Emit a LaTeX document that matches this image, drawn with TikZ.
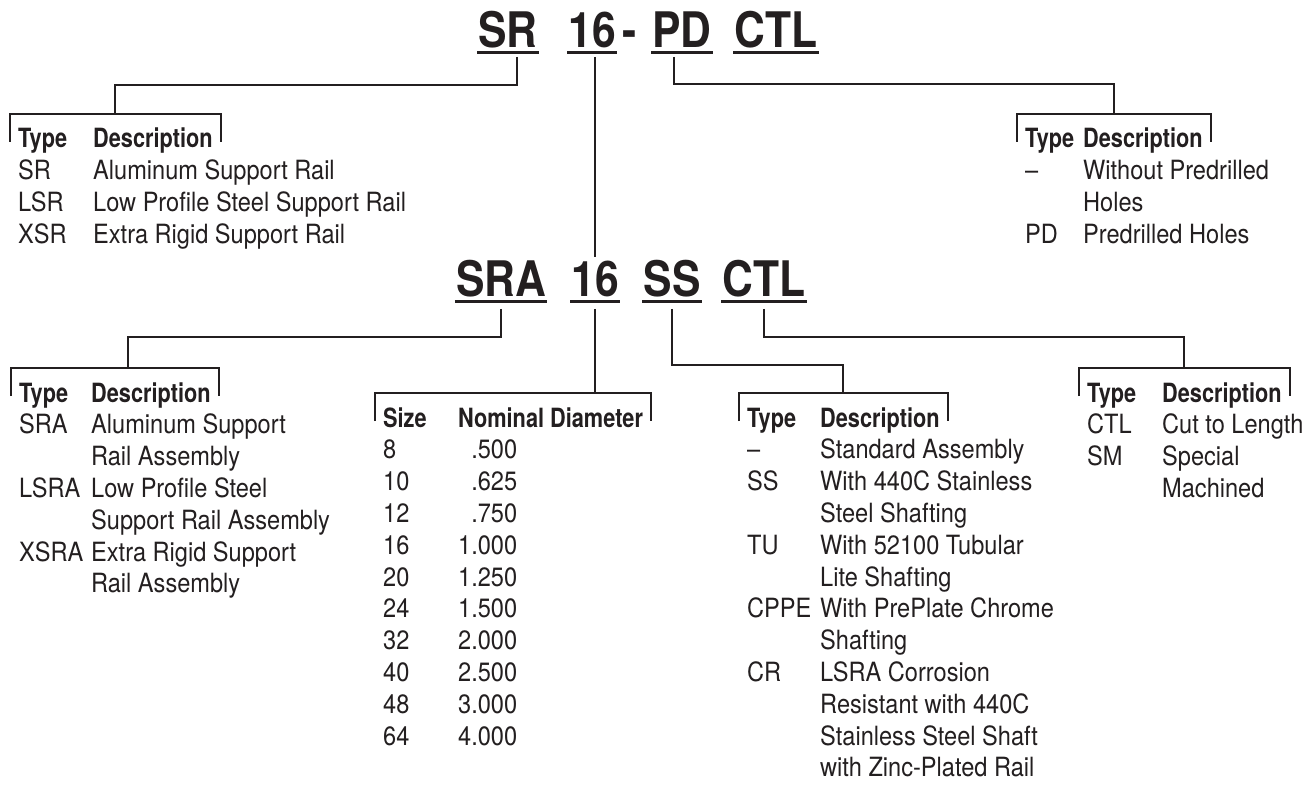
\documentclass[tikz,border=0pt]{standalone}
\usepackage{fontspec}
\setmainfont{TeX Gyre Heros}[FakeStretch=0.89,BoldFeatures={FakeStretch=0.82}]
\newfontfamily\codefam{TeX Gyre Heros}[BoldFeatures={FakeStretch=0.87}]
\usepackage{tikz}
\usetikzlibrary{calc}
\definecolor{ink}{RGB}{35,31,32}
\newcommand\codefont{\codefam\fontsize{49}{55}\selectfont\bfseries}
\newcommand\rowfont{\fontsize{26.5}{31.8}\selectfont}

\begin{document}
\begin{tikzpicture}[
    x=1pt, y=-1pt,
    code/.style={font=\codefont, text=ink, inner sep=0pt, anchor=base},
    uline/.style={draw=ink, line width=3.5pt},
    hd/.style={font=\rowfont\bfseries, text=ink, inner sep=0pt, anchor=base west},
    rows/.style={font=\rowfont, text=ink, inner sep=0pt, anchor=base west},
    link/.style={draw=ink, line width=2pt},
    brk/.style={draw=ink, line width=2pt}
]
\useasboundingbox[fill=white] (0,0) rectangle (1312,786);

% rail part number
\node[code] (sr) at (508,48) {SR};
\node[code] (sz) at (592,48) {16};
\node[code] (dash) at (630,48) {-};
\node[code] (pd) at (682,48) {PD};
\node[code] (ctl) at (776,48) {CTL};

% assembly part number
\node[code] (sra) at (501,297) {SRA};
\node[code] (szb) at (595,297) {16};
\node[code] (ss) at (672,297) {SS};
\node[code] (ctlb) at (764,297) {CTL};

\foreach \n in {sr,sz,pd,ctl,sra,szb,ss,ctlb}
    \draw[uline] ($(\n.base west)+(-1,4.5)$) -- ($(\n.base east)+(1,4.5)$);

% tables
\node[hd] (t1hd) at (18,148) {\makebox[75pt][l]{Type}Description};
\node[rows] (t1rows) at ($(t1hd.base west)+(0,31.8)$) {\begin{tabular}[t]{@{}p{75pt}@{}l@{}}
SR & Aluminum Support Rail\\
LSR & Low Profile Steel Support Rail\\
XSR & Extra Rigid Support Rail
\end{tabular}};

\node[hd] (t2hd) at (1025,148) {\makebox[58pt][l]{Type}Description};
\node[rows] (t2rows) at ($(t2hd.base west)+(0,31.8)$) {\begin{tabular}[t]{@{}p{58pt}@{}l@{}}
– & Without Predrilled\\
 & Holes\\
PD & Predrilled Holes
\end{tabular}};

\node[hd] (t3hd) at (19,402) {\makebox[72pt][l]{Type}Description};
\node[rows] (t3rows) at ($(t3hd.base west)+(0,31.8)$) {\begin{tabular}[t]{@{}p{72pt}@{}l@{}}
SRA & Aluminum Support\\
 & Rail Assembly\\
LSRA & Low Profile Steel\\
 & Support Rail Assembly\\
XSRA & Extra Rigid Support\\
 & Rail Assembly
\end{tabular}};

\node[hd] (t4hd) at (383,427) {\makebox[75pt][l]{Size}Nominal Diameter};
\node[rows] (t4rows) at ($(t4hd.base west)+(0,31.8)$) {\begin{tabular}[t]{@{}p{75pt}@{}r@{}}
8 & .500\\
10 & .625\\
12 & .750\\
16 & 1.000\\
20 & 1.250\\
24 & 1.500\\
32 & 2.000\\
40 & 2.500\\
48 & 3.000\\
64 & 4.000
\end{tabular}};

\node[hd] (t5hd) at (747,427) {\makebox[73pt][l]{Type}Description};
\node[rows] (t5rows) at ($(t5hd.base west)+(0,31.8)$) {\begin{tabular}[t]{@{}p{73pt}@{}l@{}}
– & Standard Assembly\\
SS & With 440C Stainless\\
 & Steel Shafting\\
TU & With 52100 Tubular\\
 & Lite Shafting\\
CPPE & With PrePlate Chrome\\
 & Shafting\\
CR & LSRA Corrosion\\
 & Resistant with 440C\\
 & Stainless Steel Shaft\\
 & with Zinc-Plated Rail
\end{tabular}};

\node[hd] (t6hd) at (1087,402) {\makebox[75pt][l]{Type}Description};
\node[rows] (t6rows) at ($(t6hd.base west)+(0,31.8)$) {\begin{tabular}[t]{@{}p{75pt}@{}l@{}}
CTL & Cut to Length\\
SM & Special\\
 & Machined
\end{tabular}};

% brackets over the headers
\foreach \tb in {t1,t2,t3,t4,t5,t6} {
    \coordinate (\tb top) at ($(\tb hd.base)+(0,-34)$);
    \draw[brk] ($(\tb hd.base west)+(-8,-6)$) |- (\tb top) -| ($(\tb hd.base east)+(8,-6)$);
}

% leaders
\draw[link] ($(sr.base)+(9,9)$) -- ++(0,28) -| (t1top);
\draw[link] ($(pd.base)+(-8,9)$) -- ++(0,27) -| (t2top);
\draw[link] ($(sz.base)+(3,9)$) -- ($(szb.north)+(0,-4)$);
\draw[link] ($(sra.base)+(0,12)$) -- ++(0,28) -| ($(t3top)+(13,0)$);
\draw[link] ($(szb.base)+(0,12)$) -- (szb.base |- t4top);
\draw[link] ($(ss.base)+(0,12)$) -- ++(0,56) -| (t5top);
\draw[link] ($(ctlb.base)+(0,12)$) -- ++(0,28) -| (t6top);
\end{tikzpicture}
\end{document}
